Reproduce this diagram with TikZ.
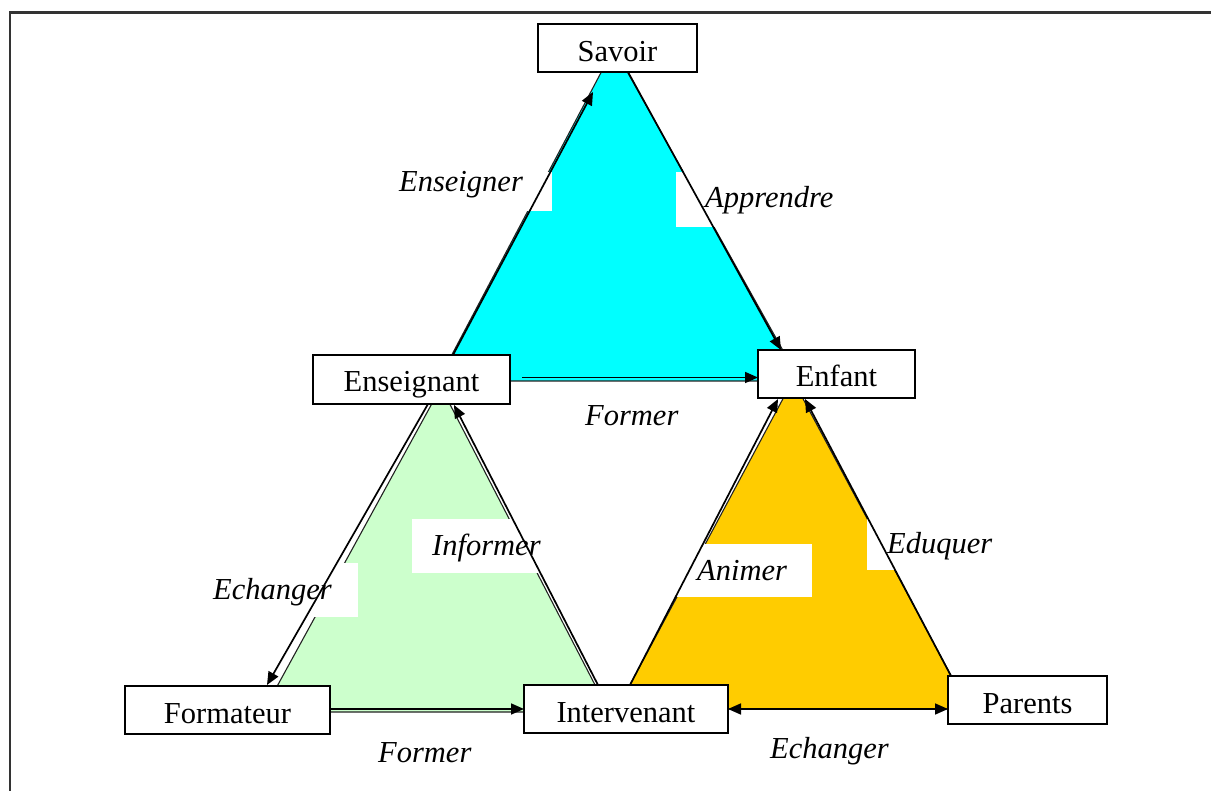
\documentclass[tikz,border=0pt]{standalone}
\usepackage{fontspec}
\setmainfont{Liberation Serif}
\usetikzlibrary{arrows.meta,calc}

\definecolor{cyanfill}{HTML}{00FFFF}
\definecolor{greenfill}{HTML}{CCFFCC}
\definecolor{orangefill}{HTML}{FFCC00}
\definecolor{edge}{HTML}{222222}

\tikzset{
  box/.style={draw=black, line width=1.7pt, fill=white, inner sep=0pt, outer sep=0pt,
    anchor=north west, font=\fontsize{30.5}{34}\selectfont},
  verb/.style={anchor=base west, inner sep=0pt, font=\fontsize{30.5}{34}\selectfont\itshape},
  arr/.style={line width=1.7pt, -{Triangle[length=13pt,width=11pt]}},
  darr/.style={line width=1.7pt, {Triangle[length=13pt,width=11pt]}-{Triangle[length=13pt,width=11pt]}},
  tri/.style={draw=edge, line width=1.1pt},
  patch/.style={fill=white}
}

\begin{document}
\begin{tikzpicture}[x=1pt,y=-1pt]
\useasboundingbox (0,0) rectangle (1211,791);

% outer frame
\draw[line width=2.2pt, black!80] (10,791) -- (10,12.5) -- (1211,12.5);

% the three triangles
\filldraw[tri, fill=cyanfill]   (614,48)  -- (438,381) -- (800,381) -- cycle;
\filldraw[tri, fill=greenfill]  (441,387) -- (263,712) -- (609,712) -- cycle;
\filldraw[tri, fill=orangefill] (793,380) -- (617,709) -- (969,709) -- cycle;

% white label backgrounds
\fill[patch] (392,172) rectangle (552,211);
\fill[patch] (676,172) rectangle (845,227);
\fill[patch] (205,563) rectangle (358,617);
\fill[patch] (412,519) rectangle (550,573);
\fill[patch] (677,544) rectangle (812,597);
\fill[patch] (867,517) rectangle (1000,570);

% boxes
\node[box, minimum width=159pt, text height=38pt, text depth=10pt] (sav) at (538,24) {Savoir};
\node[box, minimum width=197pt, text height=37pt, text depth=12pt] (ens) at (313,355) {Enseignant};
\node[box, minimum width=157pt, text height=37pt, text depth=11pt] (enf) at (758,350) {Enfant};
\node[box, minimum width=205pt, text height=37pt, text depth=11pt] (form) at (125,686) {Formateur};
\node[box, minimum width=204pt, text height=37pt, text depth=11pt] (int) at (524,685) {Intervenant};
\node[box, minimum width=159pt, text height=37pt, text depth=11pt] (par) at (948,676) {Parents};

% connectors
\draw[arr] ($(ens.north west)+(140,0)$) -- ($(sav.south west)+(55,20)$);
\draw[arr] ($(sav.south west)+(90,0)$) -- ($(enf.north west)+(23,0)$);
\draw[arr] ($(ens.east)+(12,-2)$) -- ($(enf.west)+(0,3.5)$);
\draw[arr] ($(ens.south west)+(115,0)$) -- ($(form.north west)+(142,-1)$);
\draw[arr] ($(int.north west)+(74,0)$) -- ($(ens.south west)+(141,1)$);
\draw[arr] ($(form.east)+(0,-1)$) -- (int.west);
\draw[arr] ($(int.north west)+(106,0)$) -- ($(enf.south west)+(20,1)$);
\draw[arr] ($(par.north west)+(3,0)$) -- ($(enf.south west)+(47,1)$);
\draw[darr] (int.east) -- ($(par.west)+(0,9)$);

% verbs
\node[verb] (l1) at (399,192) {Enseigner};
\node[verb] (l2) at (705,208) {Apprendre};
\node[verb] (l3) at (585,426) {Former};
\node[verb] (l4) at (432,555) {Informer};
\node[verb] (l5) at (213,599) {Echanger};
\node[verb] (l6) at (697,580) {Animer};
\node[verb] (l7) at (887,554) {Eduquer};
\node[verb] (l8) at (378,762) {Former};
\node[verb] (l9) at (770,758) {Echanger};
\end{tikzpicture}
\end{document}
